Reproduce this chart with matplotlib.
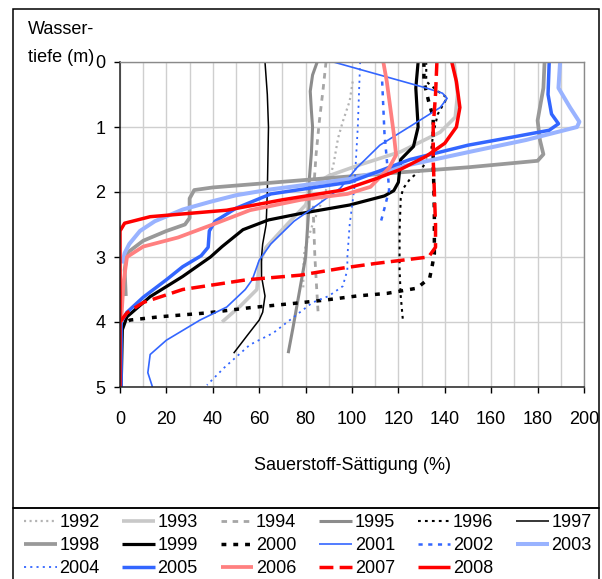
import matplotlib
matplotlib.use("Agg")
import matplotlib.pyplot as plt
from matplotlib.patches import Rectangle

plt.rcParams['font.family'] = ['Liberation Sans', 'DejaVu Sans']
plt.rcParams['lines.scale_dashes'] = False

# ---------------- data (saturation %, depth m) ----------------
years = ['1992', '1993', '1994', '1995', '1996', '1997', '1998', '1999',
         '2000', '2001', '2002', '2003', '2004', '2005', '2006', '2007', '2008']

sat_1992 = [100.3, 99, 96, 94, 92, 89.5, 87, 83, 79.5, 79, 79]
depth_1992 = [0.3, 0.6, 0.92, 1.17, 1.58, 1.9, 2.15, 2.5, 2.9, 3.2, 3.5]

sat_1993 = [144, 145.5, 144.5, 138, 121, 103.5, 90, 83, 80, 72, 63, 60, 59, 52, 44]
depth_1993 = [0, 0.5, 0.85, 1.08, 1.38, 1.58, 1.75, 1.9, 2.2, 2.5, 2.85, 3.1, 3.5, 3.75, 4.0]

sat_1994 = [88.8, 87.6, 85.9, 84.5, 83.3, 83.3, 84, 84.8, 85.5]
depth_1994 = [0, 0.4, 0.92, 1.43, 2.05, 2.3, 3.0, 3.5, 3.92]

sat_1995 = [85, 83, 82, 82.5, 83, 82.5, 81.5, 81.5, 80, 78, 76, 74.5, 72.5]
depth_1995 = [0, 0.2, 0.45, 0.75, 1.0, 1.4, 1.85, 2.2, 3.0, 3.4, 3.8, 4.1, 4.48]

sat_1996 = [132, 132, 137, 141, 137, 135, 134, 130, 125, 122, 121, 120.5, 120.5, 121, 122]
depth_1996 = [0, 0.3, 0.45, 0.55, 0.8, 1.1, 1.4, 1.65, 1.8, 1.95, 2.1, 2.6, 3.2, 3.6, 4.0]

sat_1997 = [62.5, 63.5, 64, 63.5, 63, 61.5, 61, 61, 62.5, 61.5, 60, 55, 49]
depth_1997 = [0, 0.5, 1.0, 2.0, 2.5, 2.8, 3.0, 3.3, 3.6, 3.85, 3.97, 4.2, 4.48]

sat_1998 = [183, 182.5, 180, 181, 182.5, 180, 165, 150, 120, 78, 40, 32, 30, 30, 28, 20, 10, 3, 2, 2.5]
depth_1998 = [0, 0.4, 0.9, 1.2, 1.42, 1.52, 1.57, 1.62, 1.7, 1.82, 1.93, 1.97, 2.1, 2.4, 2.5, 2.6, 2.75, 2.94, 3.2, 3.6]

sat_1999 = [128.5, 127.5, 128.5, 126.5, 121, 120, 118, 114, 99, 78, 64, 53, 44, 39, 27, 13, 3, 1, 0.5]
depth_1999 = [0, 0.4, 1.0, 1.3, 1.5, 1.85, 1.98, 2.06, 2.2, 2.33, 2.43, 2.58, 2.84, 3.0, 3.3, 3.61, 3.92, 4.12, 5.0]

sat_2000 = [131, 131, 133, 135, 135, 135.5, 135.5, 134.5, 133.5, 128, 115, 102, 89, 76, 56, 37.5, 17, 4.3, 2]
depth_2000 = [0, 0.3, 0.6, 0.85, 1.5, 2.3, 2.95, 3.15, 3.32, 3.48, 3.56, 3.6, 3.66, 3.71, 3.78, 3.86, 3.92, 3.97, 4.02]

sat_2001 = [92, 112, 132, 139, 141, 138, 126, 112, 102, 95, 85, 75, 65, 60, 57, 54, 46, 34.5, 20, 13, 12, 14]
depth_2001 = [0, 0.2, 0.4, 0.48, 0.56, 0.7, 0.97, 1.28, 1.63, 1.94, 2.2, 2.45, 2.8, 3.05, 3.35, 3.5, 3.77, 3.97, 4.28, 4.5, 4.78, 5.0]

sat_2002 = [113, 113.5, 114, 115, 116, 114, 112.5]
depth_2002 = [0.3, 0.7, 1.1, 1.5, 1.97, 2.25, 2.45]

sat_2003 = [189.7, 189, 194, 198, 197, 175, 151, 125, 99, 78, 65, 50, 39, 27, 15, 8.6, 4, 2, 1]
depth_2003 = [0, 0.4, 0.7, 0.92, 1.0, 1.2, 1.38, 1.58, 1.8, 1.9, 1.96, 2.05, 2.15, 2.27, 2.45, 2.6, 2.8, 2.94, 3.1]

sat_2004 = [103.5, 103, 102.5, 101, 99, 98, 98, 96, 90, 83, 66, 56, 45, 37.5]
depth_2004 = [0, 0.5, 1.0, 1.94, 2.5, 3.0, 3.2, 3.45, 3.6, 3.7, 4.17, 4.35, 4.7, 4.97]

sat_2005 = [185, 184.5, 186, 189, 185, 170, 150, 125, 99, 80, 65, 50, 41, 38.5, 38, 35, 27, 20, 10, 3, 0.5, 0.5]
depth_2005 = [0, 0.5, 0.8, 0.95, 1.05, 1.15, 1.28, 1.5, 1.85, 1.95, 2.03, 2.25, 2.45, 2.6, 2.85, 2.98, 3.15, 3.35, 3.62, 3.85, 4.0, 5.0]

sat_2006 = [113.5, 115, 116.5, 118, 119, 116, 108, 98, 78, 56, 40, 25, 10, 3, 1.5, 0.5]
depth_2006 = [0, 0.3, 0.7, 1.1, 1.43, 1.63, 1.92, 2.03, 2.12, 2.28, 2.5, 2.7, 2.84, 3.0, 3.4, 4.0]

sat_2007 = [136.6, 136, 135, 135, 135.5, 136, 136, 133, 110, 96, 77.6, 54.7, 27, 10, 3, 0]
depth_2007 = [0, 0.5, 1.0, 1.5, 2.0, 2.5, 2.85, 3.0, 3.1, 3.17, 3.28, 3.35, 3.5, 3.7, 3.86, 4.0]

sat_2008 = [143, 145, 146.5, 145, 140, 132, 121, 110, 96, 70, 46, 13, 2, 0, 0]
depth_2008 = [0, 0.3, 0.7, 1.0, 1.25, 1.45, 1.65, 1.8, 1.97, 2.12, 2.28, 2.38, 2.48, 2.6, 5.0]

x_ticks = [0, 20, 40, 60, 80, 100, 120, 140, 160, 180, 200]
y_ticks = [0, 1, 2, 3, 4, 5]

series = {
    '1992': (sat_1992, depth_1992), '1993': (sat_1993, depth_1993),
    '1994': (sat_1994, depth_1994), '1995': (sat_1995, depth_1995),
    '1996': (sat_1996, depth_1996), '1997': (sat_1997, depth_1997),
    '1998': (sat_1998, depth_1998), '1999': (sat_1999, depth_1999),
    '2000': (sat_2000, depth_2000), '2001': (sat_2001, depth_2001),
    '2002': (sat_2002, depth_2002), '2003': (sat_2003, depth_2003),
    '2004': (sat_2004, depth_2004), '2005': (sat_2005, depth_2005),
    '2006': (sat_2006, depth_2006), '2007': (sat_2007, depth_2007),
    '2008': (sat_2008, depth_2008),
}

# ---------------- styles ----------------
styles = {
    '1992': dict(color='#b3b3b3', lw=1.6, dashes=[1.5, 2.5]),
    '1993': dict(color='#c8c8c8', lw=2.6),
    '1994': dict(color='#a6a6a6', lw=2.0, dashes=[4, 4]),
    '1995': dict(color='#8c8c8c', lw=2.2),
    '1996': dict(color='black', lw=1.5, dashes=[2, 3]),
    '1997': dict(color='black', lw=1.1),
    '1998': dict(color='#999999', lw=2.7),
    '1999': dict(color='black', lw=2.3),
    '2000': dict(color='black', lw=2.5, dashes=[3.5, 5]),
    '2001': dict(color='#3366ff', lw=1.2),
    '2002': dict(color='#3366ff', lw=1.8, dashes=[3, 4]),
    '2003': dict(color='#99b3ff', lw=2.9),
    '2004': dict(color='#3366ff', lw=1.3, dashes=[1.5, 3]),
    '2005': dict(color='#3366ff', lw=2.5),
    '2006': dict(color='#ff8080', lw=2.7),
    '2007': dict(color='red', lw=2.5, dashes=[10, 4.5]),
    '2008': dict(color='red', lw=2.5),
}

FS = 13
W, H = 602, 579
fig = plt.figure(figsize=(W / 100, H / 100), dpi=100)
ax = fig.add_axes([120 / W, 1 - 387 / H, 464 / W, 325 / H])

handles = {}
for i, yr in enumerate(years):
    x, d = series[yr]
    ln, = ax.plot(x, d, solid_joinstyle='round', solid_capstyle='butt',
                  dash_joinstyle='round', label=yr, zorder=2 + i * 0.01, **styles[yr])
    handles[yr] = ln

ax.set_xlim(0, 200)
ax.set_ylim(5, 0)
ax.set_xticks(x_ticks)
ax.set_xticks(list(range(10, 200, 20)), minor=True)
ax.set_yticks(y_ticks)
ax.grid(which='both', axis='x', color='#cfcfcf', lw=1.0)
ax.grid(which='major', axis='y', color='#cfcfcf', lw=1.0)
ax.set_axisbelow(True)
ax.tick_params(axis='x', which='minor', length=0)
ax.tick_params(axis='x', which='major', direction='out', length=4.5, width=1,
               pad=13, labelsize=FS)
ax.tick_params(axis='y', which='major', direction='out', length=4.5, width=1,
               pad=6, labelsize=FS)
for s in ['left', 'bottom']:
    ax.spines[s].set_color('#222222')
    ax.spines[s].set_linewidth(1.1)
for s in ['top', 'right']:
    ax.spines[s].set_color('#8a8a8a')
    ax.spines[s].set_linewidth(1.0)

fig.text(28 / W, 1 - 29 / H, 'Wasser-', ha='left', va='center', fontsize=FS)
fig.text(28 / W, 1 - 57 / H, 'tiefe (m)', ha='left', va='center', fontsize=FS)
fig.text(352 / W, 1 - 466 / H, 'Sauerstoff-Sättigung (%)', ha='center', va='center',
         fontsize=FS)

# frames
fig.add_artist(Rectangle((12.5 / W, 1 - 508 / H), 586 / W, 499 / H,
                         transform=fig.transFigure, fill=False, lw=1.1, ec='black'))
fig.add_artist(Rectangle((12.5 / W, -0.05), 586 / W, (1 - 508 / H) + 0.05,
                         transform=fig.transFigure, fill=False, lw=1.1, ec='black'))

# legend (row-major order as in reference)
ncol = 6
rows = [years[i:i + ncol] for i in range(0, len(years), ncol)]
order = []
for c in range(ncol):
    for r in rows:
        if c < len(r):
            order.append(r[c])
fig.legend([handles[y] for y in order], order, ncol=ncol, loc='upper left',
           bbox_to_anchor=(24 / W, 1 - 514 / H), frameon=False, borderpad=0,
           borderaxespad=0, handlelength=1.8, handletextpad=0.15,
           columnspacing=1.27, labelspacing=0.34, fontsize=FS)

fig.savefig('out.png', dpi=100)
